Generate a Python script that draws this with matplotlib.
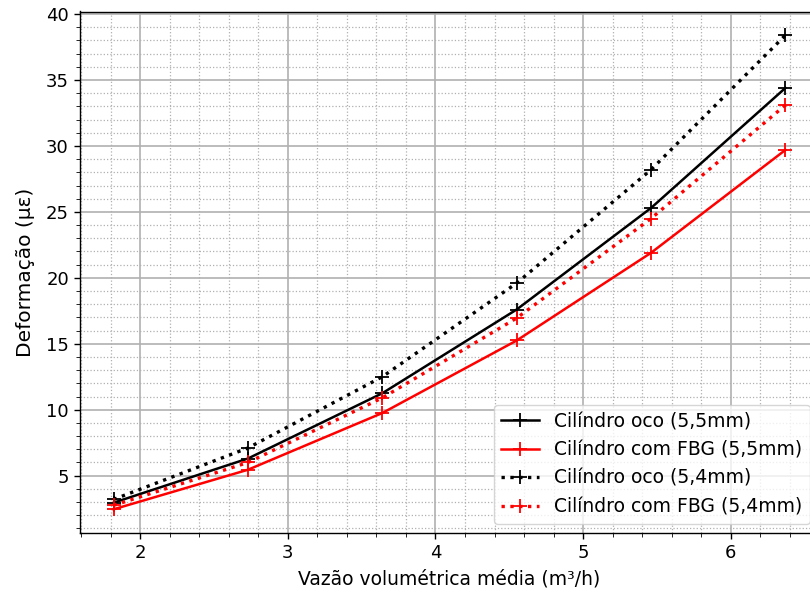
import matplotlib
matplotlib.use("Agg")
import matplotlib.pyplot as plt
from matplotlib.ticker import MultipleLocator

# Vazão volumétrica média (m³/h)
vazao = [1.82, 2.73, 3.64, 4.55, 5.46, 6.37]

# Deformação (µε) por configuração
oco_55 = [2.95, 6.3, 11.25, 17.6, 25.3, 34.4]
fbg_55 = [2.45, 5.45, 9.75, 15.25, 21.9, 29.7]
oco_54 = [3.2, 7.1, 12.5, 19.6, 28.2, 38.4]
fbg_54 = [2.75, 6.0, 10.9, 16.95, 24.5, 33.1]

labels = ["Cilíndro oco (5,5mm)", "Cilíndro com FBG (5,5mm)",
          "Cilíndro oco (5,4mm)", "Cilíndro com FBG (5,4mm)"]

plt.rcParams["font.family"] = ["DejaVu Sans"]
plt.rcParams["font.size"] = 13
plt.rcParams["xtick.major.size"] = 4.5
plt.rcParams["ytick.major.size"] = 4.5
plt.rcParams["xtick.minor.size"] = 2.6
plt.rcParams["ytick.minor.size"] = 2.6
plt.rcParams["xtick.major.width"] = 1.0
plt.rcParams["ytick.major.width"] = 1.0
plt.rcParams["axes.linewidth"] = 1.0

fig = plt.figure(figsize=(8.10, 5.94), dpi=100)
ax = fig.add_axes([80 / 810, 1 - 533 / 594, (819 - 80) / 810, (533 - 11.5) / 594])

ax.plot(vazao, oco_55, "k-", marker="+", ms=10, mew=1.3, lw=1.8, label=labels[0])
ax.plot(vazao, fbg_55, "r-", marker="+", ms=10, mew=1.3, lw=1.8, label=labels[1])
ax.plot(vazao, oco_54, "k:", marker="+", ms=10, mew=1.3, lw=2.4, label=labels[2])
ax.plot(vazao, fbg_54, "r:", marker="+", ms=10, mew=1.3, lw=2.4, label=labels[3])

ax.xaxis.set_major_locator(MultipleLocator(1))
ax.xaxis.set_minor_locator(MultipleLocator(0.2))
ax.yaxis.set_major_locator(MultipleLocator(5))
ax.yaxis.set_minor_locator(MultipleLocator(1))
ax.tick_params(labelsize=13)

ax.grid(True, which="major", color="#b0b0b0", lw=1.2)
ax.grid(True, which="minor", color="#b0b0b0", lw=0.9, ls=":")

ax.set_xlabel("Vazão volumétrica média (m³/h)", fontsize=13.5, labelpad=5)
ax.set_ylabel("Deformação (µε)", fontsize=14.5, labelpad=8)
ax.legend(loc="lower right", fontsize=13.5, borderaxespad=0.5)

fig.savefig("out.png", dpi=100)
